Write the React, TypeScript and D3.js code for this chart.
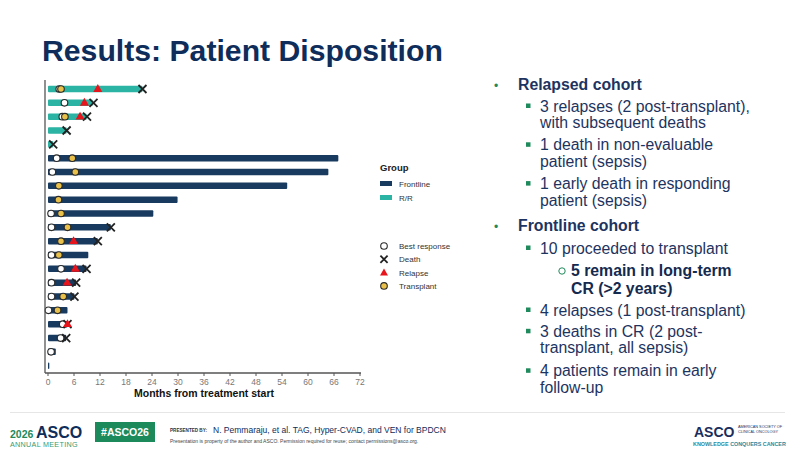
import React from "react";
import * as d3 from "d3";

// One row per patient, top to bottom (R/R cohort first, then frontline).
const groups = [
  "R/R", "R/R", "R/R", "R/R", "R/R",
  "Frontline", "Frontline", "Frontline", "Frontline", "Frontline",
  "Frontline", "Frontline", "Frontline", "Frontline", "Frontline",
  "Frontline", "Frontline", "Frontline", "Frontline", "Frontline", "Frontline",
];
// Months of follow-up from treatment start
const followUp = [21.8, 10.3, 8.9, 4.3, 1.2, 67.0, 64.7, 55.2, 29.9, 24.3, 14.5, 11.5, 9.3, 8.9, 6.5, 6.1, 4.5, 4.5, 4.2, 1.8, 0.3];
const bestResponse = [2.6, 3.8, 3.3, null, null, 2.0, 1.0, null, null, 0.7, 0.8, null, 0.8, 3.0, 0.8, 0.8, 0.1, 3.4, 2.9, 0.7, null];
const transplant = [3.0, null, 3.9, null, null, 5.6, 6.3, 2.5, 2.4, 3.0, 4.5, 3.0, 2.5, null, null, 3.5, 2.2, null, null, null, null];
const relapse = [11.5, 8.4, 7.4, null, null, null, null, null, null, null, null, 5.9, null, 6.3, 4.4, null, null, 4.5, null, null, null];
const death = [21.8, 10.5, 9.0, 4.3, 1.2, null, null, null, null, null, 14.5, 11.5, null, 8.9, 6.5, 6.1, null, 4.5, 4.2, null, null];

const xTicks = [0, 6, 12, 18, 24, 30, 36, 42, 48, 54, 60, 66, 72];
const groupNames = ["Frontline", "R/R"];
const eventNames = ["Best response", "Death", "Relapse", "Transplant"];

const relapsedBullets = [
  ["3 relapses (2 post-transplant),", "with subsequent deaths"],
  ["1 death in non-evaluable", "patient (sepsis)"],
  ["1 early death in responding", "patient (sepsis)"],
];
const frontlineBullets = [
  ["10 proceeded to transplant"],
  ["4 relapses (1 post-transplant)"],
  ["3 deaths in CR (2 post-", "transplant, all sepsis)"],
  ["4 patients remain in early", "follow-up"],
];
const frontlineSub = ["5 remain in long-term", "CR (>2 years)"];

const NAVY = "#0f2d5a";
const TEXT = "#1d3461";
const GREEN = "#1f8a5b";
const BAR_COLORS: Record<string, string> = { Frontline: "#183a5e", "R/R": "#2bb3a3" };
const FONT = "Liberation Sans, Arial, sans-serif";

const x = d3.scaleLinear().domain([0, 72]).range([48, 360]);
const y = d3.scalePoint<number>().domain(d3.range(groups.length)).range([89, 365.7]);

function Cross({ cx, cy, r = 4, color = "#222" }: { cx: number; cy: number; r?: number; color?: string }) {
  return (
    <path
      d={`M${cx - r},${cy - r}L${cx + r},${cy + r}M${cx - r},${cy + r}L${cx + r},${cy - r}`}
      stroke={color}
      strokeWidth={1.8}
      fill="none"
    />
  );
}

function Tri({ cx, cy, s = 4.5 }: { cx: number; cy: number; s?: number }) {
  return <path d={`M${cx},${cy - s}L${cx + s},${cy + s * 0.75}L${cx - s},${cy + s * 0.75}Z`} fill="#e8141b" />;
}

function Circle({ cx, cy, fill }: { cx: number; cy: number; fill: string }) {
  return <circle cx={cx} cy={cy} r={3.3} fill={fill} stroke="#2a2a2a" strokeWidth={1.1} />;
}

export default function App() {
  const barH = 6.5;
  const axisY = 373;
  const lineH = 16.6;
  return (
    <svg
      width={800}
      height={450}
      viewBox="0 0 800 450"
      style={{ position: "absolute", left: 0, top: 0, background: "#fff", fontFamily: FONT }}
    >
      <rect width={800} height={450} fill="#fff" />
      <text x={42} y={61} fontSize={30.2} fontWeight="bold" fill={NAVY}>
        Results: Patient Disposition
      </text>

      {/* bars */}
      {groups.map((g, i) => (
        <rect
          key={"b" + i}
          x={x(0)}
          y={(y(i) as number) - barH / 2}
          width={Math.max(1, x(followUp[i]) - x(0))}
          height={barH}
          rx={1}
          fill={BAR_COLORS[g]}
        />
      ))}
      {/* events */}
      {bestResponse.map((v, i) => (v == null ? null : <Circle key={"br" + i} cx={x(v)} cy={y(i) as number} fill="#fff" />))}
      {transplant.map((v, i) => (v == null ? null : <Circle key={"tp" + i} cx={x(v)} cy={y(i) as number} fill="#e9c14a" />))}
      {death.map((v, i) => (v == null ? null : <Cross key={"d" + i} cx={x(v)} cy={y(i) as number} />))}
      {relapse.map((v, i) => (v == null ? null : <Tri key={"r" + i} cx={x(v)} cy={(y(i) as number) - 0.5} />))}

      {/* axes */}
      <line x1={45} x2={45} y1={80} y2={axisY} stroke="#555" strokeWidth={1.3} />
      <line x1={45} x2={361} y1={axisY} y2={axisY} stroke="#555" strokeWidth={1.3} />
      {xTicks.map((t) => (
        <g key={"t" + t}>
          <line x1={x(t)} x2={x(t)} y1={axisY} y2={axisY + 3} stroke="#555" strokeWidth={1} />
          <text x={x(t)} y={axisY + 12} fontSize={8.5} fill="#777" textAnchor="middle">
            {t}
          </text>
        </g>
      ))}
      <text x={204} y={397} fontSize={10.5} fontWeight="bold" fill="#111" textAnchor="middle">
        Months from treatment start
      </text>

      {/* legend */}
      <text x={380} y={171} fontSize={9.5} fontWeight="bold" fill="#222">Group</text>
      {groupNames.map((g, i) => (
        <g key={"lg" + g}>
          <rect x={380} y={181 + i * 14} width={12} height={5} fill={BAR_COLORS[g]} />
          <text x={399} y={186.5 + i * 14} fontSize={8} fill="#333">{g}</text>
        </g>
      ))}
      {eventNames.map((n, i) => {
        const cy = 246 + i * 13.3;
        return (
          <g key={"le" + n}>
            {n === "Best response" && <Circle cx={384} cy={cy} fill="#fff" />}
            {n === "Death" && <Cross cx={384} cy={cy} r={3.6} />}
            {n === "Relapse" && <Tri cx={384} cy={cy} s={4} />}
            {n === "Transplant" && <Circle cx={384} cy={cy} fill="#e9c14a" />}
            <text x={399} y={cy + 3} fontSize={8} fill="#333">{n}</text>
          </g>
        );
      })}

      {/* right-hand summary */}
      <g fontSize={15.8} fill={TEXT}>
        <text x={494} y={90} fill={GREEN} fontSize={12}>•</text>
        <text x={518} y={90} fontWeight="bold">Relapsed cohort</text>
        {relapsedBullets.map((lines, bi) => {
          const base = 111.5 + bi * 38.8;
          return (
            <g key={"rb" + bi}>
              <rect x={526} y={base - 8} width={4.5} height={4.5} fill={GREEN} />
              {lines.map((l, li) => (
                <text key={li} x={540} y={base + li * lineH}>{l}</text>
              ))}
            </g>
          );
        })}
        <text x={494} y={231} fill={GREEN} fontSize={12}>•</text>
        <text x={518} y={231} fontWeight="bold">Frontline cohort</text>
        {frontlineBullets.map((lines, bi) => {
          const base = [253.5, 315.5, 336.8, 376.3][bi];
          return (
            <g key={"fb" + bi}>
              <rect x={526} y={base - 8} width={4.5} height={4.5} fill={GREEN} />
              {lines.map((l, li) => (
                <text key={li} x={540} y={base + li * lineH}>{l}</text>
              ))}
            </g>
          );
        })}
        <circle cx={562} cy={271} r={3.2} fill="none" stroke={GREEN} strokeWidth={1} />
        {frontlineSub.map((l, li) => (
          <text key={li} x={571} y={276 + li * 17.8} fontWeight="bold" fill="#142a4f">{l}</text>
        ))}
      </g>

      {/* footer */}
      <line x1={10} x2={785} y1={412.5} y2={412.5} stroke="#e6e6e6" strokeWidth={1} />
      <text x={10} y={437.5} fontSize={10.5} fontWeight="bold" fill={GREEN}>2026</text>
      <text x={36} y={438} fontSize={16} fontWeight="bold" fill={NAVY}>ASCO</text>
      <text x={10} y={446.5} fontSize={7.2} fill="#3a9a6e" letterSpacing={0.3}>ANNUAL MEETING</text>
      <rect x={95} y={422} width={60} height={20} fill="#1d8a5c" />
      <text x={125} y={436} fontSize={10.5} fontWeight="bold" fill="#fff" textAnchor="middle">#ASCO26</text>
      <text x={170} y={432} fontSize={4.6} fontWeight="bold" fill="#333">PRESENTED BY:</text>
      <text x={213} y={433} fontSize={8.5} fill={NAVY}>N. Pemmaraju, et al. TAG, Hyper-CVAD, and VEN for BPDCN</text>
      <text x={170} y={442.5} fontSize={5} fill="#444">
        Presentation is property of the author and ASCO. Permission required for reuse; contact permissions@asco.org.
      </text>
      <text x={694} y={437} fontSize={14} fontWeight="bold" fill="#1c2d5c">ASCO</text>
      <text x={738} y={428} fontSize={3.8} fill="#1c2d5c">AMERICAN SOCIETY OF</text>
      <text x={738} y={433} fontSize={3.8} fill="#1c2d5c">CLINICAL ONCOLOGY</text>
      <text x={693} y={445.5} fontSize={5.4} fontWeight="bold" fill="#2a8aa0">KNOWLEDGE CONQUERS CANCER</text>
    </svg>
  );
}
